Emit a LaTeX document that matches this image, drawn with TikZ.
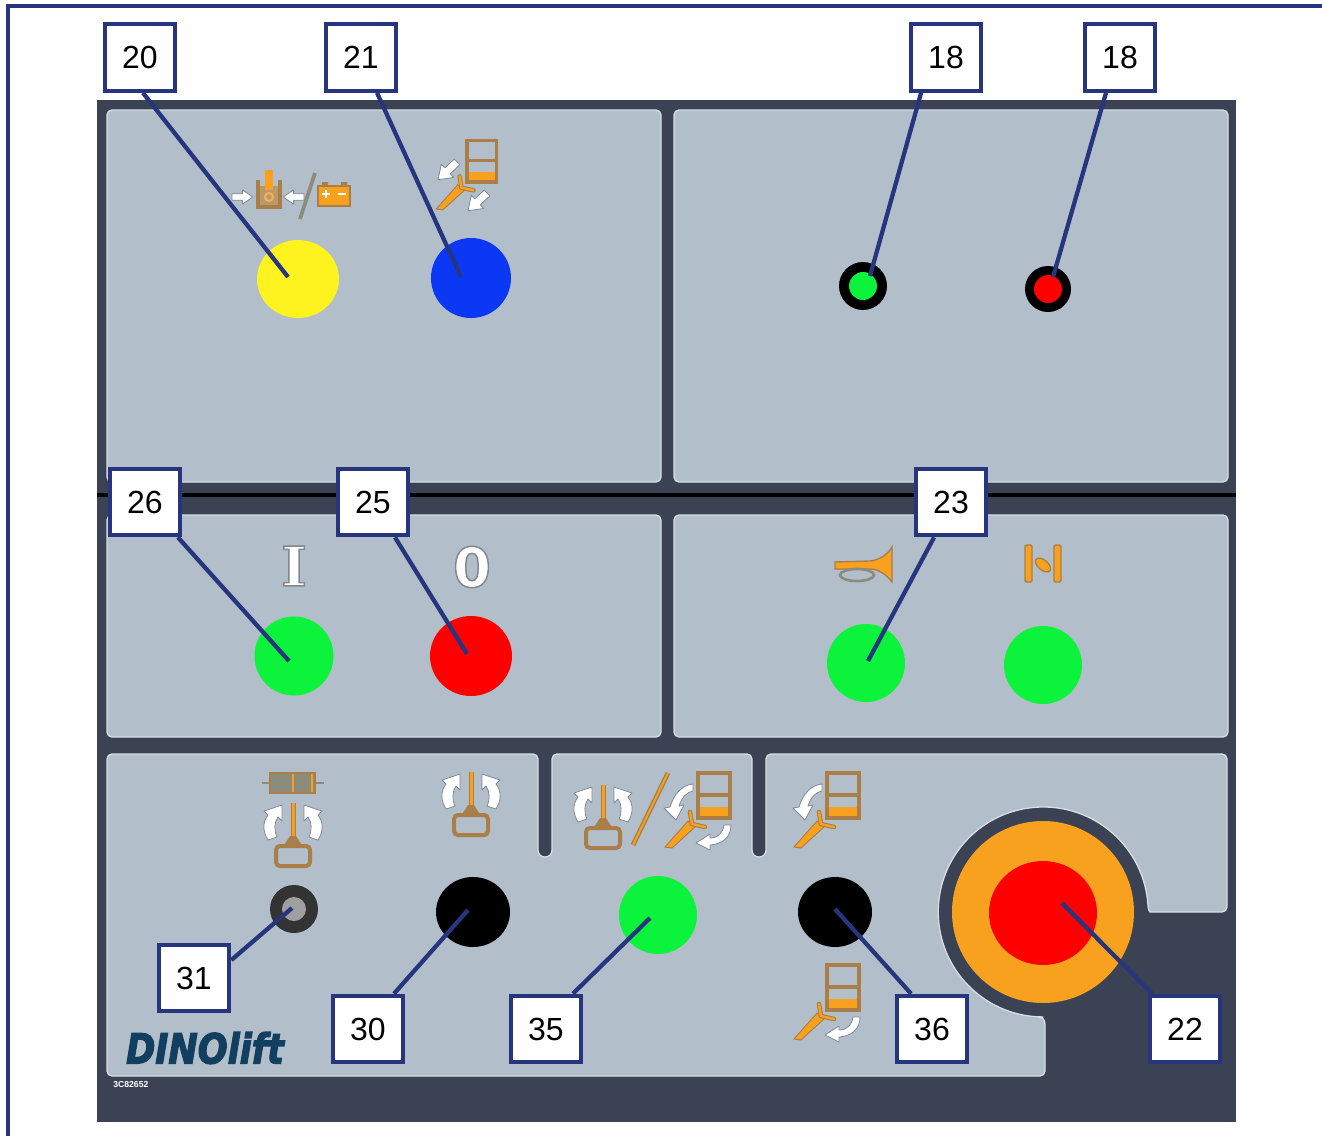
\documentclass[tikz,border=0pt]{standalone}
\usepackage{fontspec}
\setmainfont{Liberation Sans}
\newfontfamily\slabfont{DejaVu Serif}
\newfontfamily\heavyfont{DejaVu Sans}
\usetikzlibrary{calc}
\definecolor{linkblue}{HTML}{27357F}
\definecolor{plate}{HTML}{3B4254}
\definecolor{panelc}{HTML}{B2BEC9}
\definecolor{paneledge}{HTML}{D6DDE4}
\definecolor{iconorange}{HTML}{F8A11E}
\definecolor{iconbrown}{HTML}{A97E48}
\definecolor{icongray}{HTML}{8C8C7C}
\definecolor{arrowedge}{HTML}{7F8A98}
\definecolor{ledgreen}{HTML}{0BF33B}
\definecolor{ledred}{HTML}{FF0000}
\definecolor{ledyellow}{HTML}{FFF31F}
\definecolor{ledblue}{HTML}{0A38F5}
\definecolor{logoblue}{HTML}{123F60}
\newcommand\outlined[1]{\special{pdf:code 2 Tr 1.1 w 0.5 0.53 0.56 RG}#1\special{pdf:code 0 Tr 0 w}}
\newcommand\thickened[1]{\special{pdf:code 2 Tr 1 w 0.07 0.25 0.38 RG}#1\special{pdf:code 0 Tr 0 w}}
\tikzset{
  panel/.style={fill=panelc,draw=paneledge,line width=1pt},
  numbox/.style={draw=linkblue,fill=white,line width=3pt,minimum width=53pt,minimum height=50pt,inner sep=0pt,font=\fontsize{24}{24}\selectfont},
  link/.style={draw=linkblue,line width=3.2pt},
  whitearrow/.style={fill=white,draw=arrowedge,line width=.6pt,line join=round},
  framedark/.style={draw=iconbrown,line width=2.4pt},
  wrenchbox/.pic={
    \fill[iconorange] (0,-11) rectangle (32,0);
    \draw[framedark] (0,0) -- (0,-45) -- (32,-45) -- (32,0) -- cycle;
    \draw[framedark] (0,-23) -- (32,-23);
    \fill[iconorange,draw=iconbrown,line width=.7pt] (-33,29) -- (-10,3) -- (-3,9) -- (-26,30) -- cycle;
    \draw[iconbrown,line width=3.4pt,line cap=round] (-6,6) -- (-8,-6);
    \draw[iconbrown,line width=3.4pt,line cap=round] (-6,6) -- (7,9);
    \draw[iconorange,line width=1.8pt,line cap=round] (-6,6) -- (-8,-6);
    \draw[iconorange,line width=1.8pt,line cap=round] (-6,6) -- (7,9);
  },
  turnup/.pic={
    \path[whitearrow] (-5,-34) .. controls (-16,-33) and (-24,-24) .. (-28,-11) -- (-34,-10) -- (-22,2) -- (-14,-13) -- (-19,-12) .. controls (-16,-21) and (-11,-26) .. (-5,-27) -- cycle;
  },
  turndown/.pic={
    \path[whitearrow] (33,7) .. controls (33,19) and (25,26) .. (12,27) -- (12,32) -- (-2,25) -- (12,16) -- (12,20) .. controls (20,20) and (25,15) .. (26,7) -- cycle;
  },
  cage/.pic={
    \draw[iconorange,line width=2.8pt] (0,0) -- (0,38);
    \draw[iconbrown,line width=.6pt] (-2,0) -- (-2,35) (2,0) -- (2,35);
    \fill[iconbrown] (-10,44) -- (-3,33) -- (3,33) -- (10,44) -- cycle;
    \draw[iconbrown,line width=3pt,rounded corners=3pt] (-17,43) rectangle (17,63);
    \foreach \side in {1,-1} {
      \path[whitearrow,xscale=\side] (-11,2) -- (-29,8) -- (-25,12) .. controls (-31,20) and (-30,29) .. (-25,37) -- (-16,34) .. controls (-19,27) and (-19,20) .. (-15,14) -- (-11,18) -- cycle;
    }
  },
  blockarrow/.pic={
    \path[whitearrow] (0,-4) -- (13,-4) -- (13,-9) -- (26,0) -- (13,9) -- (13,4) -- (0,4) -- cycle;
  },
}
\begin{document}
\begin{tikzpicture}[x=0.75pt,y=-0.75pt]
\useasboundingbox (0,0) rectangle (1322,1136);
\fill[white] (0,0) rectangle (1322,1136);
\draw[linkblue,line width=2.4pt] (1322,6) -- (8,6) -- (8,1136);

% plate and panels
\fill[plate] (97,100) rectangle (1236,1122);
\draw[black,line width=3.5pt] (97,495) -- (1236,495);
\path[panel,rounded corners=3.75pt] (107,110) rectangle (661,482);
\path[panel,rounded corners=3.75pt] (674,110) rectangle (1228,482);
\path[panel,rounded corners=3.75pt] (107,515) rectangle (661,737);
\path[panel,rounded corners=3.75pt] (674,515) rectangle (1228,737);
\path[panel] [rounded corners=3.75pt] (107,754) -- (538,754) [rounded corners=5pt] -- (538,857) -- (552,857) [rounded corners=3.75pt] -- (552,754) -- (752,754) [rounded corners=5pt] -- (752,857) -- (766,857) [rounded corners=3.75pt] -- (766,754) -- (1227,754) -- (1227,912) -- (1155,912)
  [sharp corners] .. controls (1150,912) and (1148,910) .. (1148,905) arc[start angle=3.8,end angle=270,radius=78.75pt] -- (1038,1017) .. controls (1043,1017) and (1045,1020) .. (1045,1025)
  [rounded corners=3.75pt] -- (1045,1076) -- (107,1076) -- cycle;

% lamps and buttons
\fill[ledyellow] (298,279) ellipse[x radius=41,y radius=39];
\fill[ledblue] (471,278) circle[radius=40];
\fill[black] (863,286) circle[radius=24];
\fill[ledgreen] (863,286) circle[radius=14];
\fill[black] (1048,289) circle[radius=23];
\fill[ledred] (1048,289) circle[radius=14];
\fill[ledgreen] (294,656) circle[radius=39.5];
\fill[ledred] (471,656) ellipse[x radius=41,y radius=40];
\fill[ledgreen] (866,663) circle[radius=39];
\fill[ledgreen] (1043,665) circle[radius=39];
\fill[black!60!gray] (294,909) circle[radius=24];
\fill[gray!75!white] (294,909) circle[radius=12];
\fill[black] (473,912) ellipse[x radius=37,y radius=35];
\fill[ledgreen] (658,915) circle[radius=39];
\fill[black] (835,912) ellipse[x radius=37,y radius=35];
\fill[iconorange] (1043,912) circle[radius=91];
\fill[ledred] (1043,913) ellipse[x radius=54,y radius=52];

% icon above lamp 20
\fill[iconbrown!80!white] (258,186) rectangle (280,207);
\fill[iconorange] (265,170) rectangle (273,190);
\draw[iconbrown,line width=2.4pt] (258,180) -- (258,207) -- (280,207) -- (280,180);
\draw[iconorange!80!white,line width=1.4pt] (269,197) circle[radius=4];
\pic[scale=.8] at (232,197) {blockarrow};
\pic[xscale=-.8,yscale=.8] at (304,197) {blockarrow};
\draw[icongray,line width=2.8pt] (315,173) -- (300,219);
\fill[iconorange,draw=iconbrown,line width=1.6pt] (318,186) rectangle (350,206);
\fill[iconbrown] (322,182) rectangle (328,186) (341,182) rectangle (347,186);
\draw[white,line width=1pt] (322,194) -- (330,194) (326,190) -- (326,198) (338,194) -- (346,194);

% icon above lamp 21
\pic[scale=.93] at (467,182) {wrenchbox};
\pic[rotate=-137] at (457,162) {blockarrow};
\pic[rotate=-137] at (487,193) {blockarrow};

% I and 0
\node (signon) at (294,566) {\fontsize{41}{41}\selectfont\slabfont\bfseries\color{white}\outlined{I}};
\node (signoff) at (472,567) {\fontsize{41}{41}\selectfont\heavyfont\bfseries\color{white}\outlined{0}};

% horn
\fill[iconorange,draw=iconbrown,line width=1pt] (835,562) -- (870,561) .. controls (880,560) and (888,554) .. (892,547) -- (892,582) .. controls (886,574) and (878,569) .. (870,569) -- (835,569) -- cycle;
\draw[icongray,line width=2pt] (857,575) ellipse[x radius=17,y radius=6];
% lock symbol
\fill[iconorange,draw=iconbrown,line width=1pt,rounded corners=1pt] (1025,545) rectangle (1032,582) (1054,545) rectangle (1061,582);
\fill[iconorange,draw=iconbrown,line width=1pt,rotate around={-40:(1043,565)}] (1043,565) ellipse[x radius=9,y radius=5];

% bottom row icons
\fill[icongray] (270,773) rectangle (315,793);
\draw[icongray,line width=2pt] (262,783) -- (324,783);
\draw[iconorange,line width=1.5pt] (293,773) -- (293,793) (312,773) -- (312,793);
\draw[iconbrown,line width=1.4pt] (270,773) rectangle (315,793);
\pic at (293,803) {cage};
\pic at (471,772) {cage};
\pic at (603,785) {cage};
\draw[iconbrown,line width=3.6pt] (668,773) -- (633,845);
\draw[iconorange,line width=1.4pt] (668,773) -- (633,845);
\pic at (698,818) {wrenchbox};
\pic at (698,818) {turnup};
\pic at (698,818) {turndown};
\pic at (827,818) {wrenchbox};
\pic at (827,818) {turnup};
\pic at (827,1010) {wrenchbox};
\pic at (827,1010) {turndown};

% logo and code
\node[inner sep=0pt,text=logoblue,xscale=.85,transform shape] (logo) at (205,1048) {\fontsize{31}{31}\selectfont\heavyfont\bfseries\itshape\thickened{DINOlift}};
\node[inner sep=0pt,text=white,anchor=west] (code) at (113,1085) {\fontsize{6.5}{7}\selectfont\bfseries 3C82652};

% targets
\coordinate (t20) at (288,277);
\coordinate (t21) at (461,277);
\coordinate (t18a) at (870,276);
\coordinate (t18b) at (1053,277);
\coordinate (t26) at (289,661);
\coordinate (t25) at (467,654);
\coordinate (t23) at (868,661);
\coordinate (t31) at (292,908);
\coordinate (t30) at (468,910);
\coordinate (t35) at (650,918);
\coordinate (t36) at (835,909);
\coordinate (t22) at (1062,903);

% number boxes
\node[numbox] (n20) at (140,57.5) {20};
\node[numbox] (n21) at (361,57.5) {21};
\node[numbox] (n18a) at (946,57.5) {18};
\node[numbox] (n18b) at (1120,57.5) {18};
\node[numbox] (n26) at (145,502) {26};
\node[numbox] (n25) at (373,502) {25};
\node[numbox] (n23) at (951,502) {23};
\node[numbox] (n31) at (194,978) {31};
\node[numbox] (n30) at (368,1029) {30};
\node[numbox] (n35) at (546,1029) {35};
\node[numbox] (n36) at (932,1029) {36};
\node[numbox] (n22) at (1185,1029) {22};

% connectors
\draw[link] ([xshift=2.2pt]n20.south) -- (t20);
\draw[link] ([xshift=12pt]n21.south) -- (t21);
\draw[link] ([xshift=-18.7pt]n18a.south) -- (t18a);
\draw[link] ([xshift=-10.5pt]n18b.south) -- (t18b);
\draw[link] ([xshift=24.7pt]n26.south) -- (t26);
\draw[link] ([xshift=16.5pt]n25.south) -- (t25);
\draw[link] ([xshift=-12.7pt]n23.south) -- (t23);
\draw[link] ([yshift=13.5pt]n31.east) -- (t31);
\draw[link] ([xshift=19.5pt]n30.north) -- (t30);
\draw[link] ([xshift=20.2pt]n35.north) -- (t35);
\draw[link] ([xshift=-15.7pt]n36.north) -- (t36);
\draw[link] ([xshift=-24.7pt]n22.north) -- (t22);
\end{tikzpicture}
\end{document}
